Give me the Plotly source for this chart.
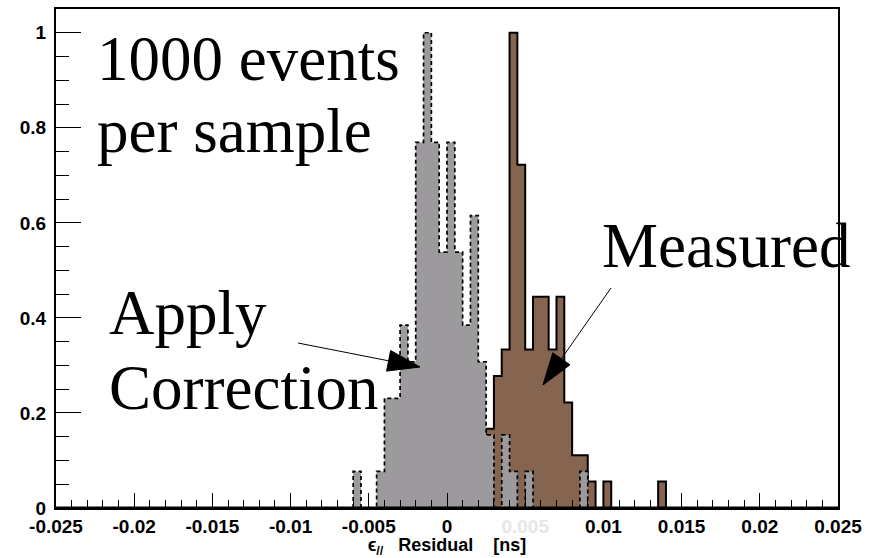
import numpy as np
import plotly.graph_objects as go

# Histogram binning: 100 bins over [-0.025, 0.025] ns
x_min, x_max, n_bins = -0.025, 0.025, 100
bin_width = (x_max - x_min) / n_bins

# "Apply Correction" sample: counts per bin, first bin starts at -0.006
corrected_start = -0.006
corrected_counts = [1, 0, 0, 1, 3, 3, 5, 4, 10, 13, 10, 7, 10, 7, 5, 8,
                    4, 2, 0, 2, 1, 0, 1, 0, 0, 0, 0, 0, 0, 1]

# "Measured" sample: counts per bin, first bin starts at 0.0025
measured_start = 0.0025
measured_counts = [3, 5, 6, 18, 13, 6, 8, 8, 6, 8, 4, 2, 2, 1, 0, 1,
                   0, 0, 0, 0, 0, 0, 1]

x_tick_vals = [-0.025, -0.02, -0.015, -0.01, -0.005, 0, 0.005, 0.01, 0.015, 0.02, 0.025]
x_tick_text = ["-0.025", "-0.02", "-0.015", "-0.01", "-0.005", "0",
               "<span style='color:#e6e6e6'>0.005</span>", "0.01", "0.015", "0.02", "0.025"]
y_tick_vals = [0, 0.2, 0.4, 0.6, 0.8, 1.0]
y_tick_text = ["0", "0.2", "0.4", "0.6", "0.8", "1"]

GRAY = "#9c9a9d"
BROWN = "#85654f"

# Canvas geometry
W, H = 875, 558
M_L, M_R, M_T, M_B = 56, 37, 9, 50
PW, PH = W - M_L - M_R, H - M_T - M_B


def step_outline(start, counts):
    """Histogram outline (normalised to peak = 1) as a step polyline."""
    h = np.asarray(counts, dtype=float) / max(counts)
    edges = start + bin_width * np.arange(len(counts) + 1)
    xs = np.concatenate([[edges[0]], edges[:-1], [edges[-1]]])
    ys = np.concatenate([[0.0], h, [0.0]])
    return xs, ys


def px(x):
    return (x - M_L) / PW


def py(y):
    return (H - M_B - y) / PH


fig = go.Figure()

mx, my = step_outline(measured_start, measured_counts)
fig.add_trace(go.Scatter(
    x=mx, y=my, mode="lines", line=dict(shape="hv", color="black", width=2),
    fill="tozeroy", fillcolor=BROWN, name="Measured", showlegend=False,
))

cx, cy = step_outline(corrected_start, corrected_counts)
fig.add_trace(go.Scatter(
    x=cx, y=cy, mode="lines",
    line=dict(shape="hv", color="black", width=1.7, dash="4px,3px"),
    fill="tozeroy", fillcolor=GRAY, name="Apply Correction", showlegend=False,
))

shapes = []


def arrow(tail, tip, head_len=32, head_half=10.5):
    (x0, y0), (x1, y1) = tail, tip
    d = np.hypot(x1 - x0, y1 - y0)
    ux, uy = (x1 - x0) / d, (y1 - y0) / d
    bx, by = x1 - ux * head_len, y1 - uy * head_len
    nx, ny = -uy, ux
    c1 = (bx + nx * head_half, by + ny * head_half)
    c2 = (bx - nx * head_half, by - ny * head_half)
    shapes.append(dict(type="line", xref="paper", yref="paper",
                       x0=px(x0), y0=py(y0), x1=px(bx), y1=py(by),
                       line=dict(color="black", width=1)))
    path = "M {:.5f},{:.5f} L {:.5f},{:.5f} L {:.5f},{:.5f} Z".format(
        px(x1), py(y1), px(c1[0]), py(c1[1]), px(c2[0]), py(c2[1]))
    shapes.append(dict(type="path", xref="paper", yref="paper", path=path,
                       fillcolor="black", line=dict(color="black", width=1)))


arrow((298, 343), (420, 367))
arrow((611, 288), (543, 385))

# heavy x-axis line along the bottom of the frame
shapes.append(dict(type="line", xref="paper", yref="paper", x0=0, x1=1, y0=0, y1=0,
                   line=dict(color="black", width=3)))
fig.update_layout(shapes=shapes)

SERIF = "Liberation Serif, Times New Roman, serif"
labels = [
    ("1000 events", 95, 80),
    ("per sample", 95, 152),
    ("Measured", 600, 267),
    ("Apply", 107, 334),
    ("Correction", 107, 409),
]
for text, lx, base in labels:
    fig.add_annotation(
        text=text, xref="paper", yref="paper", x=px(lx), y=py(base - 21),
        xanchor="left", yanchor="middle", showarrow=False,
        font=dict(family=SERIF, size=63, color="black"),
    )

SANS = "Liberation Sans, Arial, sans-serif"
fig.update_layout(
    width=W, height=H,
    margin=dict(l=M_L, r=M_R, t=M_T, b=M_B, autoexpand=False),
    paper_bgcolor="white", plot_bgcolor="white",
    xaxis=dict(
        range=[x_min, x_max], tickmode="array", tickvals=x_tick_vals, ticktext=x_tick_text,
        ticks="inside", ticklen=15, tickwidth=1.3, tickcolor="black",
        minor=dict(tickmode="linear", tick0=x_min, dtick=0.001, ticks="inside",
                   ticklen=8, tickwidth=1.3, tickcolor="black"),
        showline=True, linecolor="black", linewidth=2, mirror=True,
        showgrid=False, zeroline=False, automargin=False,
        tickfont=dict(family=SANS, size=19, color="black", weight="bold"),
        title=dict(text="ϵ<sub>//</sub>   Residual    [ns]", standoff=6,
                   font=dict(family=SANS, size=18, color="black", weight="bold")),
    ),
    yaxis=dict(
        range=[0, 1.05], tickmode="array", tickvals=y_tick_vals, ticktext=y_tick_text,
        ticks="inside", ticklen=25, tickwidth=1.3, tickcolor="black",
        minor=dict(tickmode="linear", tick0=0, dtick=0.05, ticks="inside",
                   ticklen=12.5, tickwidth=1.3, tickcolor="black"),
        showline=True, linecolor="black", linewidth=2, mirror=True,
        showgrid=False, zeroline=False, automargin=False,
        tickfont=dict(family=SANS, size=19, color="black", weight="bold"),
        ticklabelstandoff=4,
    ),
)

fig.write_html("out.html")
